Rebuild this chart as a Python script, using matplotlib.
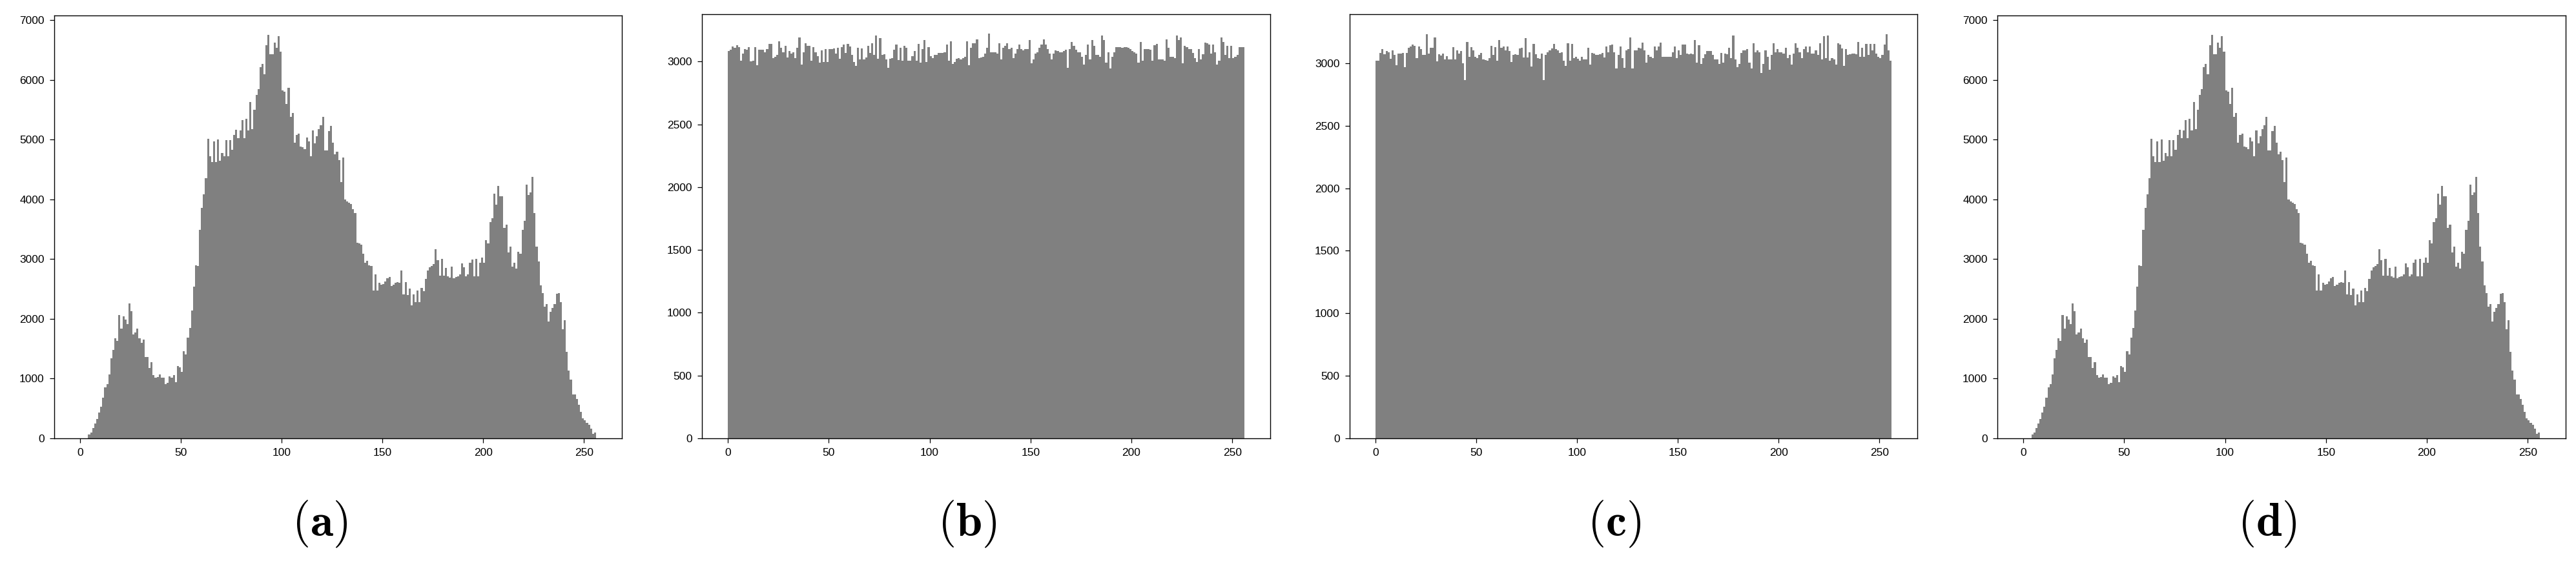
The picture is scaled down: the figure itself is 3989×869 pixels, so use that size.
import matplotlib
matplotlib.use("Agg")
import matplotlib.pyplot as plt
import numpy as np

plt.rcParams['font.family'] = ['Liberation Sans', 'DejaVu Sans']
plt.rcParams['mathtext.fontset'] = 'cm'

# grey-level bins 0..255
bin_edges = np.arange(257)

# (a) original image histogram, also shown again in (d)
counts_a = [
    0, 0, 0, 0, 60, 100, 170, 250, 320, 430, 530, 680, 850, 910, 1070, 1340,
    1480, 1680, 1630, 2060, 1840, 2040, 1990, 1910, 2260, 2130, 1740, 1770, 1840, 1680, 1600, 1650,
    1360, 1360, 1180, 1270, 1060, 1020, 1030, 1070, 1020, 1020, 910, 930, 1040, 1020, 1060, 940,
    1210, 1190, 1110, 1460, 1410, 1690, 1850, 2140, 2540, 2900, 2890, 3490, 3860, 4080, 4360, 5010,
    4720, 4630, 4970, 4630, 5000, 4650, 4780, 4720, 4990, 4720, 4990, 4830, 5080, 5170, 5030, 5150,
    5330, 5030, 5350, 5150, 5630, 5180, 5500, 5750, 5850, 6210, 6270, 6100, 6580, 6750, 6430, 6430,
    6620, 6540, 6730, 6470, 5830, 5800, 5600, 5870, 5380, 5450, 4950, 5080, 5100, 4880, 4870, 4840,
    5040, 4970, 4720, 5150, 4940, 5060, 5180, 5240, 5380, 4820, 4820, 5140, 5230, 4950, 4760, 4800,
    4660, 4290, 4700, 4000, 3970, 3950, 3920, 3840, 3770, 3270, 3260, 3240, 3090, 2940, 2970, 2900,
    2890, 2480, 2750, 2480, 2610, 2570, 2580, 2630, 2680, 2700, 2550, 2570, 2600, 2620, 2600, 2810,
    2410, 2620, 2400, 2510, 2230, 2410, 2280, 2470, 2280, 2520, 2460, 2670, 2810, 2860, 2890, 2920,
    3170, 2980, 2720, 3000, 2720, 2850, 2710, 2690, 2870, 2680, 2700, 2710, 2750, 2930, 2860, 2710,
    2750, 2940, 2990, 2710, 3000, 2710, 2940, 3030, 2940, 3320, 3260, 3620, 3690, 4100, 3910, 4230,
    4050, 4050, 3520, 3580, 3110, 3210, 2880, 2940, 2840, 3120, 3090, 3490, 3640, 4250, 4070, 4120,
    4380, 3770, 3210, 2960, 2560, 2430, 2200, 2250, 1960, 2120, 2180, 2250, 2420, 2430, 2280, 1830,
    1980, 1450, 1130, 980, 740, 730, 660, 560, 440, 340, 300, 260, 230, 160, 80, 100,
]

# (b) encrypted image histogram
counts_b = [
    3083, 3092, 3118, 3111, 3130, 3116, 3005, 3064, 3099, 3092,
    3116, 3000, 3009, 3116, 2969, 3092, 3092, 3092, 3075, 3099,
    3139, 3139, 3028, 3040, 3052, 3163, 3111, 3075, 3123, 3035,
    3083, 3064, 3075, 3028, 3111, 3194, 2974, 3075, 3146, 3123,
    3123, 3005, 3116, 3075, 3045, 2993, 3087, 2998, 3099, 2998,
    3099, 3099, 3106, 3064, 3111, 3021, 3116, 3134, 3071, 3139,
    3118, 3052, 2998, 2965, 3111, 3016, 3106, 3016, 3035, 3123,
    3068, 3146, 3052, 3205, 3024, 3189, 3052, 3059, 3016, 2950,
    3021, 3028, 3094, 3134, 3012, 3111, 3009, 3123, 3111, 3005,
    3005, 3045, 3083, 3005, 3139, 2993, 3099, 3170, 2998, 3116,
    3045, 3028, 3052, 3052, 3068, 3068, 3068, 3075, 3134, 3005,
    3163, 2981, 2998, 3021, 3028, 3016,
    3028, 3040, 3163, 2969, 3111, 3146, 3146, 3175, 3028, 3035,
    3040, 3064, 3111, 3222, 3075, 3075, 3075, 3064, 3146, 3016,
    3111, 3123, 3146, 3099, 3111, 3028, 3064, 3099, 3134, 3099,
    3087, 3099, 3099, 3170, 2986, 3016, 3064, 3075, 3111, 3134,
    3175, 3134, 3099, 3064, 3016, 3064, 3087, 3083, 3075, 3075,
    3083, 3092, 2950, 3099, 3158, 3123, 3092, 3075, 3075, 3040,
    2974, 3052, 3134, 3016, 3170, 3123, 3052, 3052, 3040, 3205,
    3170, 2993, 3075, 2946, 3040, 3075, 3116, 3116, 3116, 3111,
    3116, 3116, 3111, 3099, 3083, 3075, 3064, 2993, 3158, 3005,
    3099, 3099, 3099, 3092, 3005, 3130, 3139, 3016, 3016, 3016,
    3005, 3177, 3111, 3040, 3040, 3028, 3205, 3170, 3194, 2988,
    3123, 3116, 3099, 3099, 3068, 3028, 2998, 3099, 3016, 3059,
    3151, 3146, 3134, 3064, 3134, 3075, 2974, 3005, 3194, 3158,
    3052, 3123, 3028, 3123, 3028, 3040, 3052, 3116, 3116, 3116,
]

# (c) second encrypted image histogram
counts_c = [
    3017, 3017, 3081, 3111, 3071, 3095, 3088, 3036, 3104, 3064,
    2981, 3076, 3076, 3081, 2969, 3081, 3123, 3135, 3147, 3140,
    3040, 3135, 3111, 3064, 3064, 3230, 3076, 3123, 3123, 3206,
    3012, 3071, 3059, 3076, 3028, 3057, 3028, 3028, 3128, 3028,
    3104, 3076, 3095, 2998, 2867, 3171, 3052, 3128, 3100, 3052,
    3040, 3064, 3081, 3028, 3024, 3021, 3040, 3140, 3064, 3128,
    3017, 3187, 3123, 3135, 3100, 3135, 3095, 3009, 3064, 3071,
    3064, 3116, 3123, 3047, 3199, 3045, 3088, 2974, 3152, 3071,
    3040, 3033, 3076, 2867, 3064, 3088, 3100, 3119, 3152, 3111,
    3104, 3081, 3088, 3017, 2976, 3159, 3017, 3152, 3040, 3052,
    3033, 3017, 3052, 3028, 3028, 3123, 2986, 3081, 3076, 3064,
    3064, 3071, 3081, 3047, 3135,
    3088, 3142, 3147, 3088, 2957, 3064, 3135, 3040, 2962, 3100,
    3111, 3206, 2957, 3100, 3100, 3123, 3119, 3166, 3100, 3005,
    3064, 3052, 3040, 3135, 3100, 3135, 3166, 3052, 3052, 3052,
    3052, 3052, 3088, 3135, 3040, 3100, 3064, 3147, 3147, 3076,
    3071, 3076, 3071, 3182, 3005, 3142, 2993, 3040, 3069, 3095,
    3095, 3095, 3064, 3028, 3028, 2993, 3081, 3005, 3076, 3071,
    3123, 3040, 3223, 3028, 2969, 2993, 3081, 3100, 3100, 3111,
    3005, 2957, 3159, 3088, 3100, 3088, 2922, 2993, 3100, 3052,
    2945, 3064, 3159, 3088, 3111, 3088, 3088, 3076, 3123, 3040,
    3064, 2986, 3076, 3159, 3123, 3088, 3040, 3111, 3135, 3088,
    3135, 3076, 3076, 3100, 3064, 3159, 3028, 3218, 3040, 3223,
    3017, 3040, 3028, 2986, 3159, 3147, 3119, 2976, 3111, 3064,
    3071, 3076, 3076, 3069, 3171, 3052, 3123, 3052, 3152, 3064,
    3152, 3100, 3152, 3076, 3052, 3040, 3064, 3147, 3230, 3104,
    3017,
]

# (d) decrypted image histogram, same as the original
counts_d = counts_a

panel_counts = [counts_a, counts_b, counts_c, counts_d]
panel_labels = ['(a)', '(b)', '(c)', '(d)']
panel_ymax = [7079, 3377, 3391, 7079]
panel_yticks = [np.arange(0, 7001, 1000), np.arange(0, 3001, 500),
                np.arange(0, 3001, 500), np.arange(0, 7001, 1000)]

W, H = 3989, 869
fig = plt.figure(figsize=(W / 100, H / 100), dpi=100)

# pixel boxes of the four axes: left, right, top
ax_left = [84, 1087, 2090, 3093]
ax_right = [963, 1967, 2969, 3973]
ax_top = [24, 22, 22, 24]
ax_bottom = 679
label_x = [495, 1498, 2500, 3511]
label_y = 812

for i in range(4):
    ax = fig.add_axes([ax_left[i] / W, 1 - ax_bottom / H,
                       (ax_right[i] - ax_left[i]) / W, (ax_bottom - ax_top[i]) / H])
    ax.stairs(panel_counts[i], bin_edges, fill=True, color='gray', linewidth=0)
    ax.set_xlim(-12.8, 268.8)
    ax.set_ylim(0, panel_ymax[i])
    ax.set_xticks([0, 50, 100, 150, 200, 250])
    ax.set_yticks(panel_yticks[i])
    ax.tick_params(labelsize=12.5, length=5, width=0.9, pad=6)
    for s in ax.spines.values():
        s.set_linewidth(1.0)
    fig.text(label_x[i] / W, 1 - label_y / H, r'$\mathbf{' + panel_labels[i] + '}$',
             ha='center', va='center', fontsize=52)

fig.savefig('out.png', dpi=100)
